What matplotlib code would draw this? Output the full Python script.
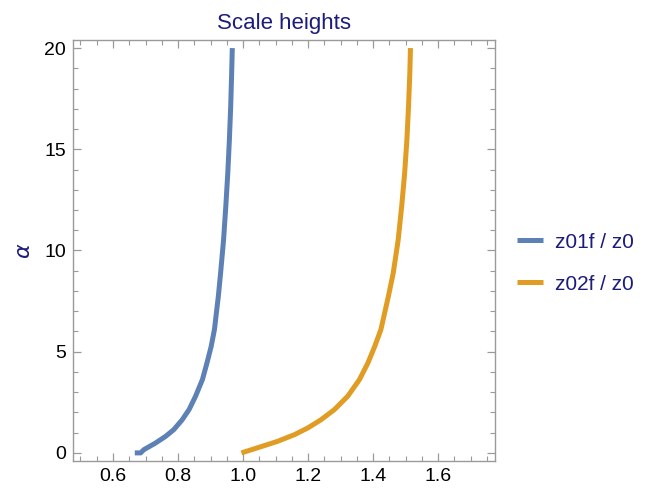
import matplotlib.pyplot as plt
from matplotlib.ticker import MultipleLocator

# Curves: alpha vs normalised scale height
alpha_blue = [0, 0, 0.16, 0.49, 0.82, 1.15, 1.64, 2.14, 2.80, 3.62, 4.44, 5.26, 6.09,
              7.73, 8.89, 10.5, 12.18, 13.8, 15.47, 17.1, 18.77, 20.0]
z01f = [0.667, 0.685, 0.695, 0.731, 0.762, 0.787, 0.813, 0.834, 0.854, 0.875, 0.889, 0.902, 0.912,
        0.924, 0.931, 0.940, 0.947, 0.953, 0.958, 0.962, 0.965, 0.967]

alpha_orange = [0, 0.25, 0.57, 0.90, 1.23, 1.64, 2.14, 2.80, 3.62, 4.44, 5.26, 6.09,
                7.73, 8.89, 10.5, 12.18, 13.8, 15.47, 17.1, 18.77, 20.0]
z02f = [0.995, 1.044, 1.106, 1.158, 1.199, 1.240, 1.281, 1.322, 1.358, 1.384, 1.405, 1.424,
        1.447, 1.462, 1.477, 1.488, 1.497, 1.504, 1.509, 1.513, 1.515]

labels = ['z01f / z0', 'z02f / z0']
colors = ['#5E81B5', '#E19C24']
navy = '#1c1c7c'
frame = '#9a9a9a'

plt.rcParams['font.family'] = ['Liberation Sans', 'DejaVu Sans']

fig = plt.figure(figsize=(6.51, 4.9), dpi=100)
ax = fig.add_axes([73 / 651, 1 - 461 / 490, (495 - 73) / 651, (461 - 40) / 490])

ax.plot(z01f, alpha_blue, color=colors[0], lw=3.6, label=labels[0],
        solid_capstyle='butt', solid_joinstyle='round')
ax.plot(z02f, alpha_orange, color=colors[1], lw=3.6, label=labels[1],
        solid_capstyle='butt', solid_joinstyle='round')

ax.set_xlim(0.477, 1.775)
ax.set_ylim(-0.4, 20.4)
ax.xaxis.set_major_locator(MultipleLocator(0.2))
ax.xaxis.set_minor_locator(MultipleLocator(0.05))
ax.yaxis.set_major_locator(MultipleLocator(5))
ax.yaxis.set_minor_locator(MultipleLocator(1))
ax.xaxis.set_major_formatter(plt.FuncFormatter(lambda v, p: f'{v:.1f}'))

for s in ax.spines.values():
    s.set_color(frame)
    s.set_linewidth(1.0)
ax.tick_params(which='both', direction='in', top=True, right=True, color=frame,
               labelsize=14, labelcolor='black')
ax.tick_params(which='major', length=6, width=0.9, pad=5)
ax.tick_params(which='minor', length=3.5, width=0.8)

ax.set_title('Scale heights', color=navy, fontsize=16, pad=8)
ax.set_ylabel(r'$\alpha$', color=navy, fontsize=16, rotation=90, labelpad=7)

ax.legend(loc='center left', bbox_to_anchor=(1.008, 0.47), frameon=False,
          fontsize=15, labelcolor=navy, handlelength=1.25, handletextpad=0.58,
          labelspacing=1.1)

plt.savefig('out.png', dpi=100, facecolor='white')
plt.close()
